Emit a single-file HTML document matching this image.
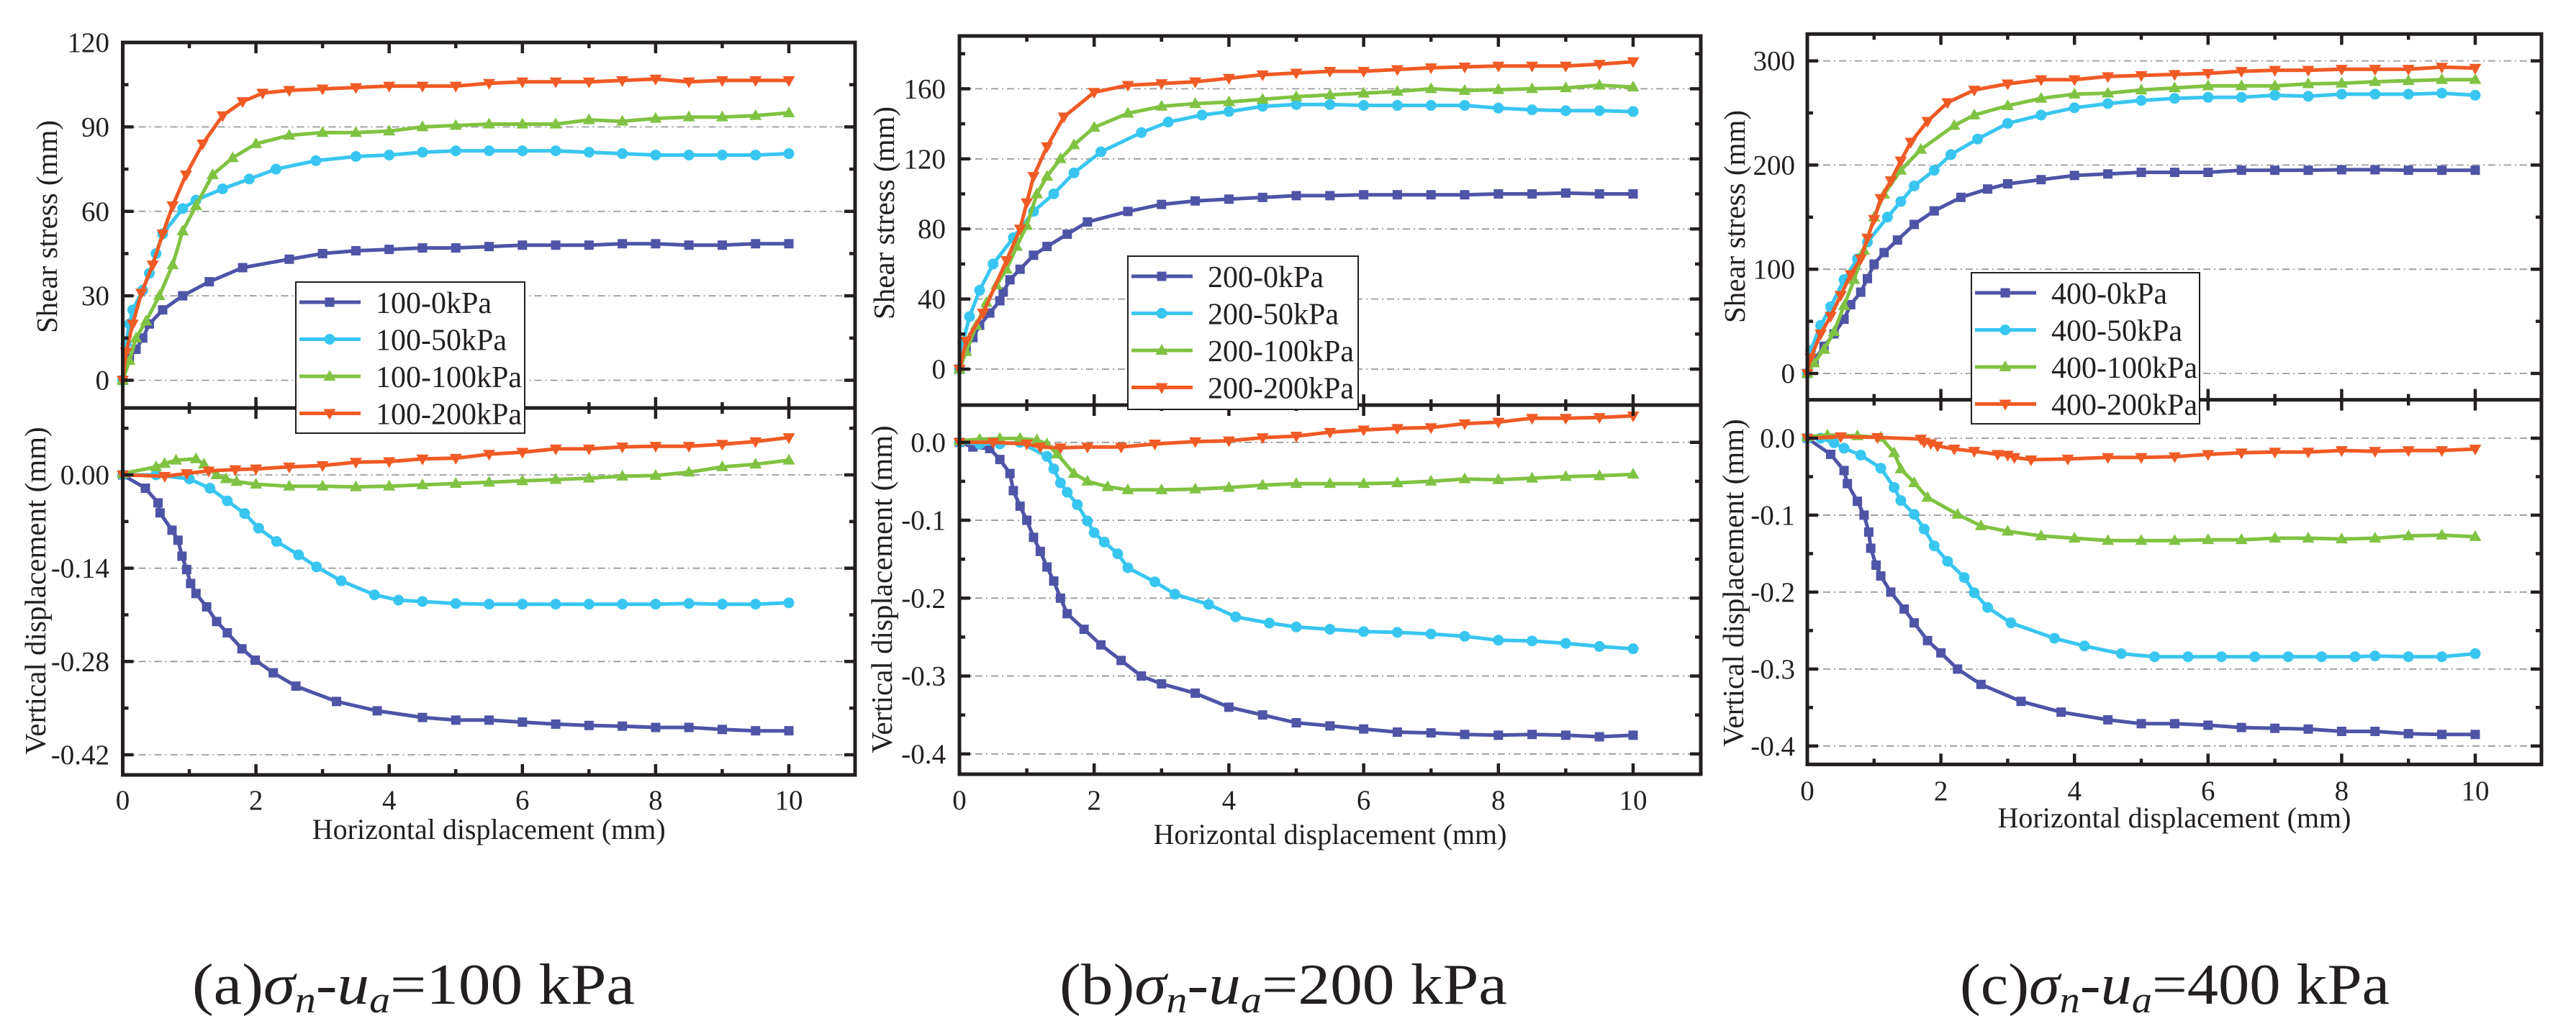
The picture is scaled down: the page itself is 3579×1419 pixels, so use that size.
<!DOCTYPE html>
<html><head><meta charset="utf-8"><style>
html,body{margin:0;padding:0;background:#fff;}
svg{display:block;font-family:"Liberation Serif","Times New Roman",serif;}
</style></head><body>
<svg id="fig" width="3579" height="1419" viewBox="0 0 3579 1419" xmlns="http://www.w3.org/2000/svg"></svg>
<script>
// ===== DATA: panel (a) sigma_n - u_a = 100 kPa =====
const xTicksLabels = ["0","2","4","6","8","10"];
const xTickValues = [0,2,4,6,8,10];
const seriesNamesA = ["100-0kPa","100-50kPa","100-100kPa","100-200kPa"];
const seriesNamesB = ["200-0kPa","200-50kPa","200-100kPa","200-200kPa"];
const seriesNamesC = ["400-0kPa","400-50kPa","400-100kPa","400-200kPa"];

const aTopTicks = [0,30,60,90,120];
const aTopLabels = ["0","30","60","90","120"];
const aBotTicks = [0,-0.14,-0.28,-0.42];
const aBotLabels = ["0.00","-0.14","-0.28","-0.42"];
const bTopTicks = [0,40,80,120,160];
const bTopLabels = ["0","40","80","120","160"];
const bBotTicks = [0,-0.1,-0.2,-0.3,-0.4];
const bBotLabels = ["0.0","-0.1","-0.2","-0.3","-0.4"];
const cTopTicks = [0,100,200,300];
const cTopLabels = ["0","100","200","300"];
const cBotTicks = [0,-0.1,-0.2,-0.3,-0.4];
const cBotLabels = ["0.0","-0.1","-0.2","-0.3","-0.4"];

// (a) shear stress
const aS0x=[0,0.1,0.2,0.3,0.4,0.6,0.9,1.3,1.8,2.5,3,3.5,4,4.5,5,5.5,6,6.5,7,7.5,8,8.5,9,9.5,10];
const aS0y=[0,8,11,15,20,25,30,35,40,43,45,46,46.5,47,47,47.5,48,48,48,48.5,48.5,48,48,48.5,48.5];
const aS1x=[0,0.05,0.1,0.15,0.3,0.4,0.5,0.6,0.9,1.1,1.5,1.9,2.3,2.9,3.5,4,4.5,5,5.5,6,6.5,7,7.5,8,8.5,9,9.5,10];
const aS1y=[0,13,20,25,32,38,45,52,61,64,68,71.5,75,78,79.5,80,81,81.5,81.5,81.5,81.5,81,80.5,80,80,80,80,80.5];
const aS2x=[0,0.1,0.2,0.35,0.55,0.75,0.9,1.1,1.35,1.65,2,2.5,3,3.5,4,4.5,5,5.5,6,6.5,7,7.5,8,8.5,9,9.5,10];
const aS2y=[0,7,15,21,30,41,53,62,73,79,84,87,88,88,88.5,90,90.5,91,91,91,92.5,92,93,93.5,93.5,94,95];
const aS3x=[0,0.05,0.15,0.28,0.45,0.6,0.75,0.95,1.2,1.5,1.8,2.1,2.5,3,3.5,4,4.5,5,5.5,6,6.5,7,7.5,8,8.5,9,9.5,10];
const aS3y=[0,10,20,31,41,52,62,73,84,94,99,102,103,103.5,104,104.5,104.5,104.5,105.5,106,106,106,106.5,107,106,106.5,106.5,106.5];
// (a) vertical displacement
const aV0x=[0,0.34,0.53,0.56,0.74,0.83,0.89,0.96,1.02,1.10,1.26,1.41,1.57,1.79,1.99,2.26,2.60,3.21,3.82,4.5,5,5.5,6,6.5,7,7.5,8,8.5,9,9.5,10];
const aV0y=[0,-0.020,-0.042,-0.057,-0.083,-0.098,-0.122,-0.142,-0.163,-0.178,-0.198,-0.220,-0.237,-0.261,-0.278,-0.297,-0.317,-0.340,-0.354,-0.364,-0.368,-0.368,-0.371,-0.374,-0.376,-0.377,-0.379,-0.379,-0.382,-0.384,-0.384];
const aV1x=[0,0.5,1.0,1.31,1.57,1.83,2.04,2.31,2.64,2.91,3.28,3.78,4.14,4.5,5,5.5,6,6.5,7,7.5,8,8.5,9,9.5,10];
const aV1y=[0,0,-0.006,-0.020,-0.039,-0.058,-0.080,-0.100,-0.120,-0.138,-0.159,-0.180,-0.188,-0.190,-0.193,-0.194,-0.194,-0.194,-0.194,-0.194,-0.194,-0.193,-0.194,-0.194,-0.192];
const aV2x=[0,0.5,0.63,0.8,1.1,1.22,1.41,1.55,1.71,2,2.5,3,3.5,4,4.5,5,5.5,6,6.5,7,7.5,8,8.5,9,9.5,10];
const aV2y=[0.002,0.012,0.017,0.022,0.024,0.016,0,-0.006,-0.010,-0.014,-0.017,-0.017,-0.018,-0.017,-0.015,-0.013,-0.011,-0.009,-0.007,-0.005,-0.002,-0.001,0.004,0.012,0.016,0.022];
const aV3x=[0,0.63,0.96,1.29,1.69,2,2.5,3,3.5,4,4.5,5,5.5,6,6.5,7,7.5,8,8.5,9,9.5,10];
const aV3y=[0,-0.002,0.002,0.006,0.008,0.009,0.012,0.014,0.019,0.020,0.024,0.025,0.031,0.034,0.039,0.039,0.042,0.043,0.043,0.046,0.050,0.056];

// (b) shear stress
const bS0x=[0,0.1,0.2,0.3,0.45,0.6,0.65,0.75,0.9,1.1,1.3,1.6,1.9,2.5,3,3.5,4,4.5,5,5.5,6,6.5,7,7.5,8,8.5,9,9.5,10];
const bS0y=[0,12,18,25,32,39,44,51,57,65,70,77,84,90,94,96,97,98,99,99,99.5,99.5,99.5,99.5,100,100,100.5,100,100];
const bS1x=[0,0.05,0.15,0.3,0.5,0.8,1.1,1.4,1.7,2.1,2.7,3.1,3.6,4,4.5,5,5.5,6,6.5,7,7.5,8,8.5,9,9.5,10];
const bS1y=[0,15,30,45,60,75,90,100,112,124,135,141,145,147,150,151,151,150.5,150.5,150.5,150.5,149,148,147.5,147.5,147];
const bS2x=[0,0.1,0.25,0.4,0.55,0.7,0.85,1,1.15,1.3,1.5,1.7,2,2.5,3,3.5,4,4.5,5,5.5,6,6.5,7,7.5,8,8.5,9,9.5,10];
const bS2y=[0,10,25,38,48,57,70,82,100,110,120,128,138,146,150,151.5,152.5,154,155.5,156.5,157.5,158.5,160,159,159.5,160,160.5,162,161];
const bS3x=[0,0.1,0.35,0.7,0.9,1.0,1.1,1.3,1.55,2,2.5,3,3.5,4,4.5,5,5.5,6,6.5,7,7.5,8,8.5,9,9.5,10];
const bS3y=[0,16,32,62,80,95,110,127,144,158,162,163,164,166,168,169,170,170,171,172,172.5,173,173,173,174,175.5];
// (b) vertical displacement
const bV0x=[0,0.2,0.45,0.6,0.75,0.8,0.9,1.0,1.1,1.2,1.3,1.4,1.5,1.6,1.85,2.1,2.4,2.7,3,3.5,4,4.5,5,5.5,6,6.5,7,7.5,8,8.5,9,9.5,10];
const bV0y=[0,-0.006,-0.008,-0.022,-0.040,-0.062,-0.082,-0.100,-0.122,-0.140,-0.160,-0.178,-0.200,-0.220,-0.240,-0.260,-0.280,-0.300,-0.310,-0.322,-0.340,-0.350,-0.360,-0.364,-0.368,-0.372,-0.373,-0.375,-0.376,-0.375,-0.376,-0.378,-0.376];
const bV1x=[0,0.3,0.6,0.9,1.3,1.4,1.5,1.6,1.75,1.9,2.0,2.15,2.35,2.5,2.9,3.2,3.7,4.1,4.6,5,5.5,6,6.5,7,7.5,8,8.5,9,9.5,10];
const bV1y=[0,-0.002,-0.002,0,-0.018,-0.034,-0.052,-0.064,-0.080,-0.101,-0.116,-0.128,-0.143,-0.161,-0.179,-0.195,-0.208,-0.224,-0.232,-0.237,-0.240,-0.243,-0.244,-0.246,-0.249,-0.254,-0.255,-0.258,-0.262,-0.265];
const bV2x=[0,0.3,0.6,0.9,1.15,1.3,1.45,1.7,1.9,2.2,2.5,3,3.5,4,4.5,5,5.5,6,6.5,7,7.5,8,8.5,9,9.5,10];
const bV2y=[0.002,0.004,0.005,0.005,0.003,-0.002,-0.015,-0.040,-0.050,-0.057,-0.061,-0.061,-0.060,-0.058,-0.055,-0.053,-0.053,-0.053,-0.052,-0.050,-0.047,-0.048,-0.046,-0.044,-0.043,-0.041];
const bV3x=[0,0.5,1.0,1.2,1.5,1.9,2.4,2.9,3.5,4,4.5,5,5.5,6,6.5,7,7.5,8,8.5,9,9.5,10];
const bV3y=[0,0,-0.002,-0.006,-0.007,-0.006,-0.006,-0.002,0.001,0.002,0.006,0.008,0.013,0.016,0.018,0.019,0.024,0.026,0.031,0.031,0.032,0.034];

// (c) shear stress
const cS0x=[0,0.1,0.25,0.4,0.55,0.65,0.8,0.9,1.0,1.15,1.35,1.6,1.9,2.3,2.7,3,3.5,4,4.5,5,5.5,6,6.5,7,7.5,8,8.5,9,9.5,10];
const cS0y=[0,12,26,38,52,66,78,91,105,116,128,143,156,169,177,182,186,190,191.5,193,193,193,195,195,195,195.5,195.5,195,195,195];
const cS1x=[0,0.05,0.2,0.35,0.55,0.75,0.9,1.2,1.4,1.6,1.9,2.15,2.55,3.0,3.5,4,4.5,5,5.5,6,6.5,7,7.5,8,8.5,9,9.5,10];
const cS1y=[0,22,46,64,90,110,126,150,165,180,195,210,225,240,248,255,259,262,264,265,265,267,266,268,268,268,269,267];
const cS2x=[0,0.1,0.25,0.4,0.55,0.7,0.85,1.0,1.15,1.4,1.7,2.2,2.5,3,3.5,4,4.5,5,5.5,6,6.5,7,7.5,8,8.5,9,9.5,10];
const cS2y=[0,10,23,40,65,90,118,150,172,195,215,238,248,257,264,268,269,272,274,276,276,276,278,278.5,280,281,282,282];
const cS3x=[0,0.05,0.2,0.35,0.5,0.65,0.8,0.9,1.0,1.1,1.25,1.4,1.55,1.8,2.1,2.5,3,3.5,4,4.5,5,5.5,6,6.5,7,7.5,8,8.5,9,9.5,10];
const cS3y=[0,15,38,55,75,95,110,130,148,168,185,204,222,242,260,272,278,282,282,285,286,287,288,290,291,291,292,292,292,294,293];
// (c) vertical displacement
const cV0x=[0,0.35,0.55,0.6,0.75,0.85,0.92,0.95,1.03,1.1,1.25,1.45,1.6,1.8,2.0,2.25,2.6,3.2,3.8,4.5,5,5.5,6,6.5,7,7.5,8,8.5,9,9.5,10];
const cV0y=[0,-0.021,-0.042,-0.059,-0.082,-0.100,-0.122,-0.143,-0.165,-0.179,-0.200,-0.222,-0.240,-0.263,-0.279,-0.300,-0.320,-0.342,-0.356,-0.366,-0.371,-0.371,-0.373,-0.376,-0.377,-0.378,-0.381,-0.381,-0.384,-0.385,-0.385];
const cV1x=[0,0.2,0.4,0.55,0.8,1.1,1.3,1.4,1.6,1.75,1.9,2.1,2.35,2.5,2.7,3.05,3.7,4.15,4.7,5.2,5.7,6.2,6.7,7.2,7.7,8.2,8.5,9,9.5,10];
const cV1y=[0,0,-0.006,-0.013,-0.022,-0.039,-0.064,-0.081,-0.099,-0.118,-0.140,-0.160,-0.181,-0.201,-0.220,-0.240,-0.260,-0.270,-0.280,-0.284,-0.284,-0.284,-0.284,-0.284,-0.284,-0.284,-0.283,-0.284,-0.284,-0.280];
const cV2x=[0,0.3,0.75,1.1,1.3,1.4,1.6,1.8,2.25,2.6,3,3.5,4,4.5,5,5.5,6,6.5,7,7.5,8,8.5,9,9.5,10];
const cV2y=[0.002,0.004,0.003,0.001,-0.019,-0.040,-0.058,-0.077,-0.099,-0.114,-0.121,-0.127,-0.130,-0.133,-0.133,-0.133,-0.132,-0.132,-0.130,-0.130,-0.131,-0.130,-0.127,-0.126,-0.128];
const cV3x=[0,0.5,1.05,1.7,1.75,1.85,1.95,2.2,2.5,2.85,3.0,3.1,3.35,3.9,4.5,5,5.5,6,6.5,7,7.5,8,8.5,9,9.5,10];
const cV3y=[0,0.002,0.001,-0.001,-0.005,-0.007,-0.010,-0.014,-0.017,-0.021,-0.022,-0.025,-0.028,-0.027,-0.025,-0.025,-0.024,-0.021,-0.019,-0.018,-0.018,-0.016,-0.017,-0.016,-0.016,-0.014];

// ===== RENDERING =====
const NS="http://www.w3.org/2000/svg";
const svg=document.getElementById('fig');
const COLORS=["#4E54A6","#38C6F0","#80C342","#F05A24"];
const MARKERS=["square","circle","up","down"];
function mk(tag,attrs,parent){const e=document.createElementNS(NS,tag);for(const k in attrs)e.setAttribute(k,attrs[k]);(parent||svg).appendChild(e);return e;}
function lin(v1,p1,v2,p2){return v=>p1+(v-v1)*(p2-p1)/(v2-v1);}

function marker(g,type,cx,cy,color){
  let e;
  if(type==="square"){e=mk('rect',{x:cx-6.5,y:cy-6.5,width:13,height:13,fill:color},g);}
  else if(type==="circle"){e=mk('circle',{cx:cx,cy:cy,r:7.5,fill:color},g);}
  else if(type==="up"){e=mk('polygon',{points:`${cx},${cy-9} ${cx-8.5},${cy+6} ${cx+8.5},${cy+6}`,fill:color},g);}
  else {e=mk('polygon',{points:`${cx},${cy+9} ${cx-8.5},${cy-6} ${cx+8.5},${cy-6}`,fill:color},g);}
  return e;
}

function drawPanel(P){
  const g=mk('g',{});
  
  
  const X=lin(0,P.x0,10,P.x10);
  const YT=lin(P.topRef[0],P.topRef[1],P.topRef[2],P.topRef[3]);
  const YB=lin(P.botRef[0],P.botRef[1],P.botRef[2],P.botRef[3]);
  const L=P.left,R=P.right,T=P.top,D=P.div,B=P.bottom;
  // gridlines
  function grid(ticks,Y,which){
    ticks.forEach(v=>{const y=Y(v); if(y<T+6||y>B-6||Math.abs(y-D)<6) return;
      const ln=mk('line',{x1:L,x2:R,y1:y,y2:y,stroke:"#9a9a9a","stroke-width":1.8,"stroke-dasharray":"10 5 2 5"},g);
      
      
    });
  }
  grid(P.topTicks,YT,'shear-stress');
  grid(P.botTicks,YB,'vertical-displacement');
  // series
  function drawSeries(xs,ys,Y,i,kind){
    const sg=mk('g',{},g);
    
    
    const pts=xs.map((x,k)=>X(x).toFixed(1)+','+Y(ys[k]).toFixed(1)).join(' ');
    const pl=mk('polyline',{points:pts,fill:'none',stroke:COLORS[i],'stroke-width':5,'stroke-linejoin':'round'},sg);
    
    
    xs.forEach((x,k)=>{const m=marker(sg,MARKERS[i],X(x),Y(ys[k]),COLORS[i]);
      
      });
  }
  for(let i=0;i<4;i++) drawSeries(P.shear[i][0],P.shear[i][1],YT,i,'shear');
  for(let i=0;i<4;i++) drawSeries(P.vert[i][0],P.vert[i][1],YB,i,'vertical');
  // frame
  const fr=mk('rect',{x:L,y:T,width:R-L,height:B-T,fill:'none',stroke:'#231f20','stroke-width':5},g);
  
  
  const dv=mk('line',{x1:L,x2:R,y1:D,y2:D,stroke:'#231f20','stroke-width':5},g);
  
  
  // ticks
  const tk=mk('g',{stroke:'#231f20','stroke-width':4.5},g);
  
  
  function yTicks(Y,lo,hi,step,majorTicks,y1,y2){
    for(let v=lo;v<=hi+1e-9;v+=step){const y=Y(v); if(y<y1+3||y>y2-3) continue;
      const isMaj=majorTicks.some(m=>Math.abs(m-v)<1e-6); const len=isMaj?15:8;
      mk('line',{x1:L,x2:L+len,y1:y,y2:y},tk); mk('line',{x1:R,x2:R-len,y1:y,y2:y},tk);}
  }
  yTicks(YT,P.topMinor[0],P.topMinor[1],P.topMinor[2],P.topTicks,T,D);
  yTicks(YB,P.botMinor[0],P.botMinor[1],P.botMinor[2],P.botTicks,D,B);
  for(let v=1;v<=10;v++){const x=X(v); const len=(v%2===0)?15:8;
    mk('line',{x1:x,x2:x,y1:T,y2:T+len},tk);
    mk('line',{x1:x,x2:x,y1:D-len,y2:D+len},tk);
    mk('line',{x1:x,x2:x,y1:B,y2:B-len},tk);}
  // tick labels
  function ylabels(ticks,labels,Y,name){
    ticks.forEach((v,k)=>{const t=mk('text',{x:P.labelRight,y:Y(v)+13,'text-anchor':'end','font-size':39,fill:'#231f20'},g);
      t.textContent=labels[k];
      
      });
  }
  ylabels(P.topTicks,P.topLabels,YT,'shear-stress');
  ylabels(P.botTicks,P.botLabels,YB,'vertical-displacement');
  xTickValues.forEach((v,k)=>{const t=mk('text',{x:X(v),y:P.xLabelY,'text-anchor':'middle','font-size':39,fill:'#231f20'},g);
    t.textContent=xTicksLabels[k];
    
    });
  // axis titles
  const xt=mk('text',{x:(L+R)/2,y:P.xTitleY,'text-anchor':'middle','font-size':40,fill:'#231f20'},g);
  xt.textContent='Horizontal displacement (mm)';
  
  
  const st=mk('text',{x:0,y:0,'text-anchor':'middle','font-size':41,fill:'#231f20',transform:`translate(${P.shearTitle[0]},${P.shearTitle[1]}) rotate(-90)`},g);
  st.textContent='Shear stress (mm)';
  
  
  const vt=mk('text',{x:0,y:0,'text-anchor':'middle','font-size':41,fill:'#231f20',transform:`translate(${P.vertTitle[0]},${P.vertTitle[1]}) rotate(-90)`},g);
  vt.textContent='Vertical displacement (mm)';
  
  
  // legend
  const lg=mk('g',{},g);
  
  
  const [lx,ly,lw,lh]=P.legend;
  mk('rect',{x:lx,y:ly,width:lw,height:lh,fill:'#fff',stroke:'#231f20','stroke-width':2},lg);
  for(let i=0;i<4;i++){
    const cy=ly+28+i*51.5;
    const eg=mk('g',{},lg);
    
    
    mk('line',{x1:lx+5,x2:lx+90,y1:cy,y2:cy,stroke:COLORS[i],'stroke-width':5},eg);
    marker(eg,MARKERS[i],lx+47,cy,COLORS[i]);
    const t=mk('text',{x:lx+111,y:cy+15,'font-size':42,fill:'#231f20'},eg);
    t.textContent=P.names[i];
  }
  // caption
  const cap=mk('text',{x:P.caption[0],y:1395,'font-size':80,fill:'#231f20',textLength:P.caption[1],lengthAdjust:'spacingAndGlyphs'},g);
  
  
  cap.innerHTML=`(${P.id})<tspan font-style="italic">σ</tspan><tspan font-style="italic" font-size="52" dy="12">n</tspan><tspan dy="-12">-</tspan><tspan font-style="italic">u</tspan><tspan font-style="italic" font-size="52" dy="12">a</tspan><tspan dy="-12">=${P.capVal} kPa</tspan>`;
}

drawPanel({id:'a',names:seriesNamesA,capVal:100,
  left:170.5,right:1188,x0:170.5,x10:1096,top:59,div:567,bottom:1077,
  topRef:[0,528.5,120,59],botRef:[0,660,-0.42,1049],
  topTicks:aTopTicks,topLabels:aTopLabels,botTicks:aBotTicks,botLabels:aBotLabels,
  topMinor:[-15,120,15],botMinor:[-0.49,0.07,0.07],
  labelRight:152,xLabelY:1125,xTitleY:1166,shearTitle:[79,315],vertTitle:[63,821],
  legend:[411,392,318,210],caption:[267,615],
  shear:[[aS0x,aS0y],[aS1x,aS1y],[aS2x,aS2y],[aS3x,aS3y]],
  vert:[[aV0x,aV0y],[aV1x,aV1y],[aV2x,aV2y],[aV3x,aV3y]]});
drawPanel({id:'b',names:seriesNamesB,capVal:200,
  left:1333,right:2363,x0:1333,x10:2269,top:50,div:563,bottom:1076,
  topRef:[0,513,160,123.4],botRef:[0,614.8,-0.4,1047.8],
  topTicks:bTopTicks,topLabels:bTopLabels,botTicks:bBotTicks,botLabels:bBotLabels,
  topMinor:[-20,200,20],botMinor:[-0.45,0.05,0.05],
  labelRight:1314,xLabelY:1125,xTitleY:1173,shearTitle:[1242,296],vertTitle:[1239,819],
  legend:[1567,356,320,213],caption:[1472,622],
  shear:[[bS0x,bS0y],[bS1x,bS1y],[bS2x,bS2y],[bS3x,bS3y]],
  vert:[[bV0x,bV0y],[bV1x,bV1y],[bV2x,bV2y],[bV3x,bV3y]]});
drawPanel({id:'c',names:seriesNamesC,capVal:400,
  left:2511,right:3531,x0:2511,x10:3439,top:47.3,div:555.6,bottom:1062.4,
  topRef:[0,519,300,84.6],botRef:[0,609,-0.4,1036.8],
  topTicks:cTopTicks,topLabels:cTopLabels,botTicks:cBotTicks,botLabels:cBotLabels,
  topMinor:[-50,350,50],botMinor:[-0.45,0.05,0.05],
  labelRight:2494,xLabelY:1112,xTitleY:1150,shearTitle:[2424,301],vertTitle:[2422,810],
  legend:[2739,379,317,210],caption:[2723,597],
  shear:[[cS0x,cS0y],[cS1x,cS1y],[cS2x,cS2y],[cS3x,cS3y]],
  vert:[[cV0x,cV0y],[cV1x,cV1y],[cV2x,cV2y],[cV3x,cV3y]]});
</script>
</body></html>
